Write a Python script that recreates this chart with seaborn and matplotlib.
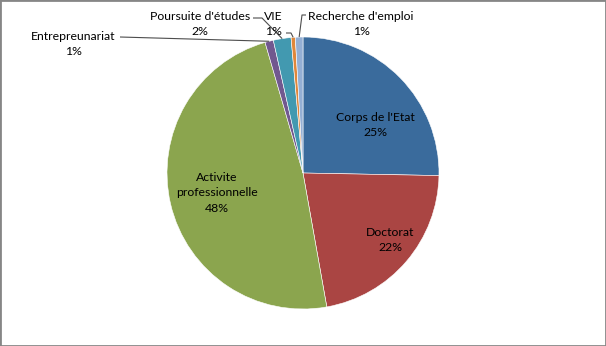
import matplotlib
matplotlib.use("Agg")
import matplotlib.pyplot as plt
import seaborn as sns
import numpy as np
from matplotlib.patches import Rectangle

# ---- data ----
categories = ["Corps de l'Etat", "Doctorat", "Activite\nprofessionnelle",
              "Entrepreunariat", "Poursuite d'études", "VIE", "Recherche d'emploi"]
values = [25.3, 21.9, 48.3, 1.0, 2.1, 0.5, 0.9]
colors = ["#3A6B9C", "#AA4543", "#8BA54E", "#71588F", "#4299B0", "#E0873A", "#94AFD4"]

sns.set_theme(style="white")
plt.rcParams['font.family'] = ['Lato', 'DejaVu Sans']

W, H = 606, 346
fig = plt.figure(figsize=(W / 100, H / 100), dpi=100)
fig.patch.set_facecolor("white")
cx, cy, R = 303, 173, 136
ax = fig.add_axes([(cx - R) / W, (H - cy - R) / H, 2 * R / W, 2 * R / H])
palette = sns.color_palette(colors)
wedges, _ = ax.pie(values, colors=palette, startangle=90, counterclock=False,
                   radius=1, wedgeprops=dict(edgecolor="white", linewidth=0.4))
ax.set_xlim(-1, 1)
ax.set_ylim(-1, 1)


def p2d(px, py):
    return ((px - cx) / R, (cy - py) / R)


def label(i):
    return f"{categories[i]}\n{int(np.floor(values[i] + 0.5))}%"


fs = 8.8
ls = 1.5
# inside labels
inside = {0: (375, 125), 1: (390, 240), 2: (217, 193)}
for i, (px, py) in inside.items():
    x, y = p2d(px, py)
    ax.text(x, y, label(i), ha="center", va="center", fontsize=fs,
            color="black", linespacing=ls)

# outside labels with leader lines
outside = {3: (73, 44), 4: (200, 24), 5: (273, 24), 6: (361, 24)}
leaders = {3: [(120, 37)], 4: [(253, 18), (262, 18)],
           5: [(286, 33), (291, 33)], 6: [(306, 15), (302, 15)]}
for i, (px, py) in outside.items():
    x, y = p2d(px, py)
    ax.text(x, y, label(i), ha="center", va="center", fontsize=fs,
            color="black", linespacing=ls, clip_on=False)
    w = wedges[i]
    th = np.deg2rad((w.theta1 + w.theta2) / 2)
    pts = [p2d(*p) for p in leaders[i]] + [(np.cos(th), np.sin(th))]
    xs, ys = zip(*pts)
    ax.plot(xs, ys, color="#4d4d4d", linewidth=0.8, clip_on=False,
            solid_capstyle="butt")

fig.add_artist(Rectangle((0, 0), 1, 1, transform=fig.transFigure, fill=False,
                         edgecolor="#868686", linewidth=2))
fig.savefig("out.png", dpi=100)
